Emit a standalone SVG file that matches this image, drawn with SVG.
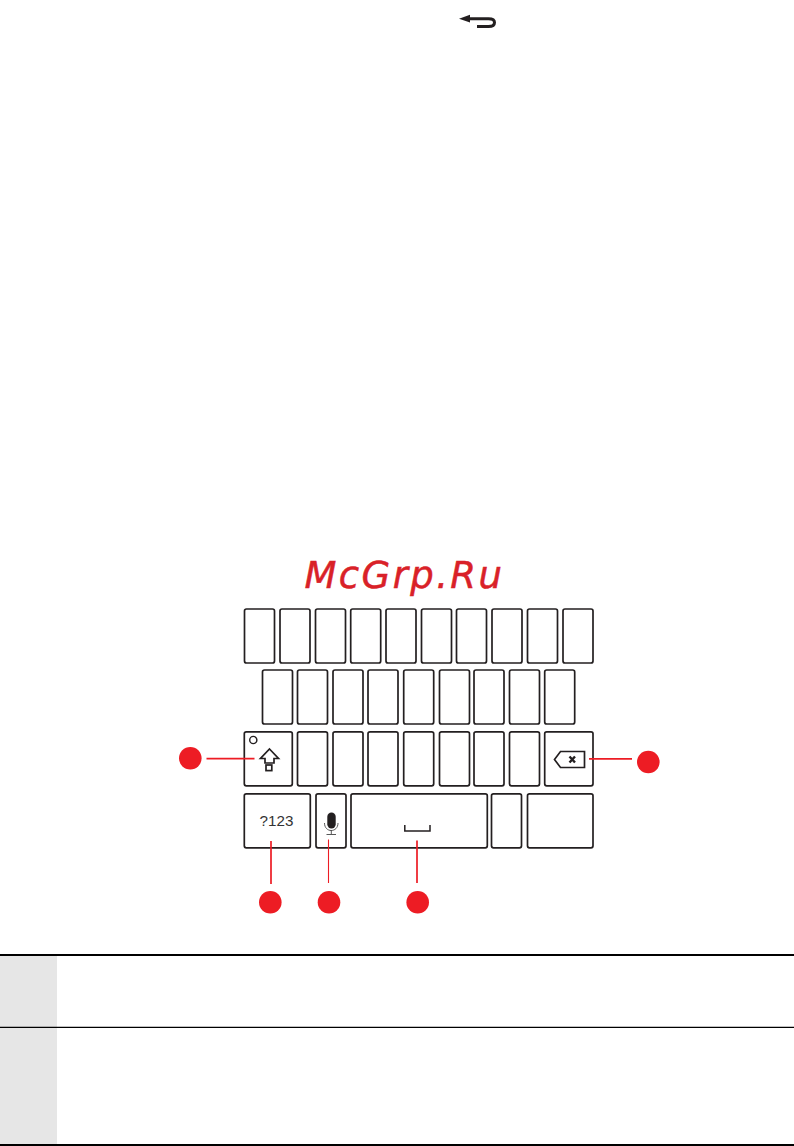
<svg xmlns="http://www.w3.org/2000/svg" width="794" height="1146" viewBox="0 0 794 1146">
<style>
.key{fill:#fff;stroke:#231f20;stroke-width:1.7}
.lead{stroke:#ed1c24;stroke-width:1.7;fill:none}
.dot{fill:#ed1c24}
.ico{fill:none;stroke:#231f20;stroke-width:1.7}
.rule{stroke:#000}
</style>
<defs>
<rect id="k" class="key" width="30" height="54" rx="2"/>
</defs>
<rect width="794" height="1146" fill="#fff"/>
<g id="return-icon">
<path d="M468 18.7H488.5Q494.5 18.7 494.5 22.5Q494.5 26.5 488.5 26.5H477" fill="none" stroke="#231f20" stroke-width="3"/>
<path d="M459 18.7L470 14.8V22.6Z" fill="#231f20"/>
</g>
<text id="watermark" x="304.5" y="587.5" font-family="'DejaVu Sans',sans-serif" font-style="oblique" font-size="37" letter-spacing="2.4" fill="#d92128" stroke="#d92128" stroke-width="0.5">McGrp.Ru</text>
<g id="keys-row-1">
<use href="#k" x="244.5" y="609"/><use href="#k" x="280" y="609"/><use href="#k" x="315.5" y="609"/><use href="#k" x="350.7" y="609"/><use href="#k" x="386" y="609"/><use href="#k" x="421.5" y="609"/><use href="#k" x="456.5" y="609"/><use href="#k" x="492" y="609"/><use href="#k" x="527.5" y="609"/><use href="#k" x="563" y="609"/>
</g>
<g id="keys-row-2">
<use href="#k" x="262.5" y="670"/><use href="#k" x="297.5" y="670"/><use href="#k" x="333" y="670"/><use href="#k" x="368" y="670"/><use href="#k" x="403.7" y="670"/><use href="#k" x="439.5" y="670"/><use href="#k" x="474" y="670"/><use href="#k" x="509.5" y="670"/><use href="#k" x="544.7" y="670"/>
</g>
<g id="keys-row-3">
<use href="#k" x="297.5" y="731.8"/><use href="#k" x="333" y="731.8"/><use href="#k" x="368" y="731.8"/><use href="#k" x="403.7" y="731.8"/><use href="#k" x="439.5" y="731.8"/><use href="#k" x="474" y="731.8"/><use href="#k" x="509.5" y="731.8"/>
</g>
<g id="shift-key">
<rect class="key" x="244.3" y="731.8" width="48" height="54" rx="2"/>
<circle class="ico" cx="253.3" cy="740" r="3.6" style="stroke-width:1.4"/>
<path class="ico" d="M269.5 749L278.5 758.5H274V763H265V758.5H260.5Z"/>
<rect class="ico" x="266" y="765" width="5.8" height="5.6"/>
</g>
<g id="backspace-key">
<rect class="key" x="544.7" y="731.8" width="48.3" height="54" rx="2"/>
<path class="ico" d="M560.5 751.5H584.5V767.5H560.5L554.5 759.5Z"/>
<path d="M569.5 756.5L575 762.5M575 756.5L569.5 762.5" fill="none" stroke="#231f20" stroke-width="2.4"/>
</g>
<g id="symbols-key">
<rect class="key" x="244.3" y="793.8" width="66" height="54" rx="2"/>
<text x="276.5" y="826" text-anchor="middle" font-family="'Liberation Sans',Arial,sans-serif" font-size="15.2" fill="#333">?123</text>
</g>
<g id="mic-key">
<rect class="key" x="316" y="793.8" width="30" height="54" rx="2"/>
<rect x="327.3" y="812.5" width="8.4" height="16" rx="4.2" fill="#231f20"/>
<path d="M324.5 823C324.5 833 338 833 338 823M331.3 830V834M326.5 834.5H336" fill="none" stroke="#444" stroke-width="0.9"/>
</g>
<g id="space-key">
<rect class="key" x="351" y="793.8" width="136.3" height="54" rx="2"/>
<path d="M404.8 825V831H430V825" fill="none" stroke="#231f20" stroke-width="1.5"/>
</g>
<g id="key-period"><rect class="key" x="491.5" y="793.8" width="30" height="54" rx="2"/></g>
<g id="key-enter"><rect class="key" x="527.5" y="793.8" width="65.5" height="54" rx="2"/></g>
<g id="connectors">
<path class="lead" d="M206.5 758.7H254.5"/>
<path class="lead" d="M589 758.8H632"/>
<path class="lead" d="M271 841V884"/>
<path class="lead" style="stroke-width:1.1" d="M328.5 839.5V883"/>
<path class="lead" d="M417 840.5V883"/>
</g>
<g id="callout-left"><circle class="dot" cx="190.3" cy="758.3" r="11.3"/></g>
<g id="callout-right"><circle class="dot" cx="648.3" cy="762" r="11.3"/></g>
<g id="callout-symbols"><circle class="dot" cx="270.3" cy="902.3" r="11.3"/></g>
<g id="callout-mic"><circle class="dot" cx="329" cy="902.3" r="11.3"/></g>
<g id="callout-space"><circle class="dot" cx="417.7" cy="902.3" r="11.3"/></g>
<g id="table">
<rect x="0" y="955" width="57" height="190" fill="#e6e6e6"/>
<line class="rule" x1="0" y1="955" x2="794" y2="955" stroke-width="2"/>
<line class="rule" x1="0" y1="1027.3" x2="794" y2="1027.3" stroke-width="1.2"/>
<line class="rule" x1="0" y1="1145" x2="794" y2="1145" stroke-width="2"/>
</g>
</svg>
